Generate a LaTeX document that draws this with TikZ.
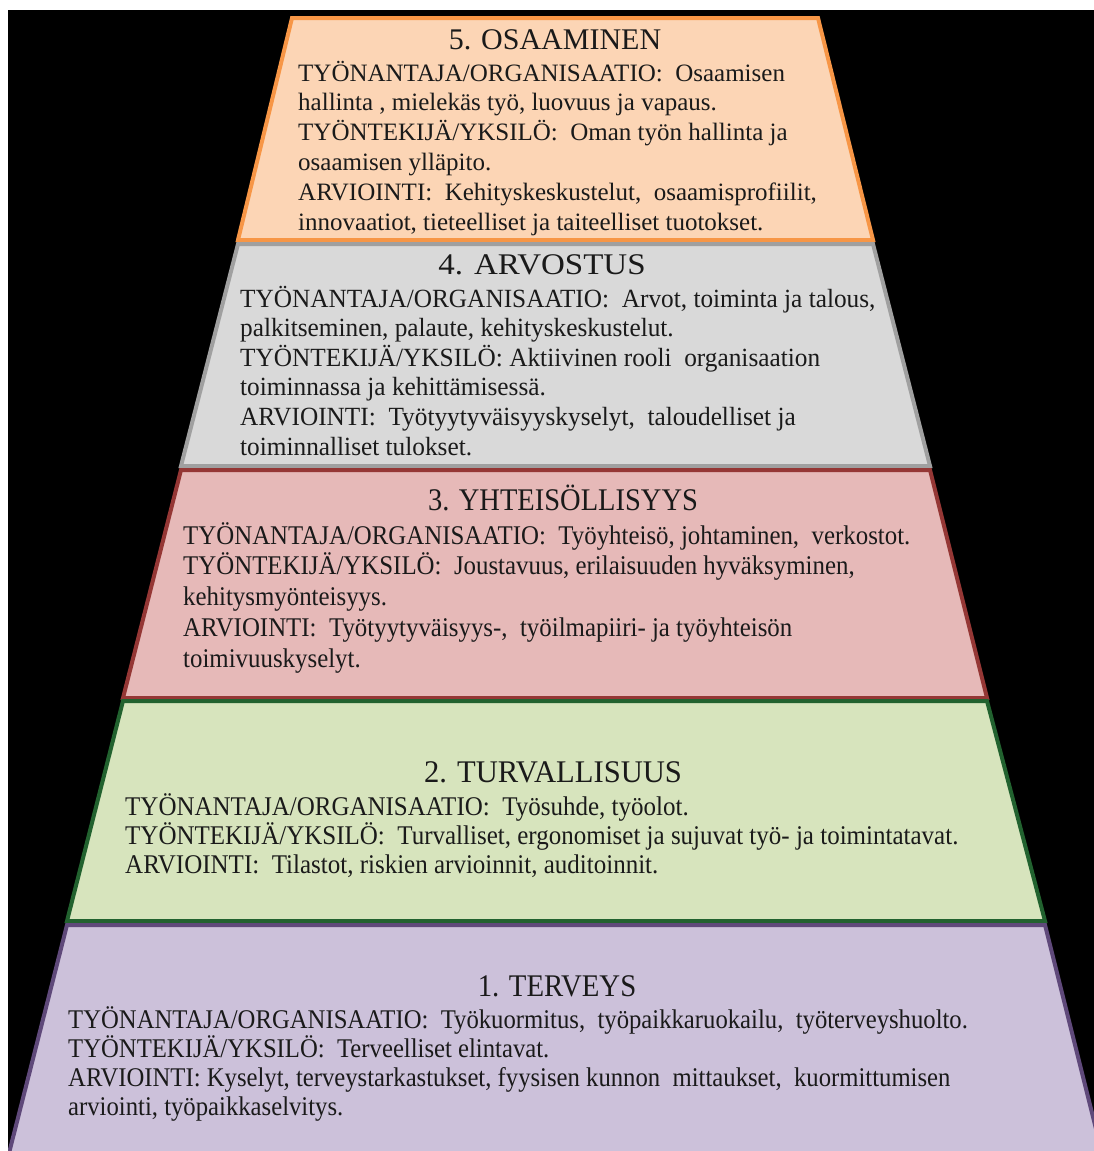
\documentclass[tikz,border=0pt]{standalone}
\usepackage{fontspec}
\usepackage{graphicx}
\setmainfont{Liberation Serif}
\definecolor{f5}{HTML}{FCD5B5}\definecolor{d5}{HTML}{F79646}
\definecolor{f4}{HTML}{D9D9D9}\definecolor{d4}{HTML}{A0A0A0}
\definecolor{f3}{HTML}{E6B9B8}\definecolor{d3}{HTML}{953735}
\definecolor{f2}{HTML}{D7E4BD}\definecolor{d2}{HTML}{22622F}
\definecolor{f1}{HTML}{CCC1DA}\definecolor{d1}{HTML}{5F497A}
\definecolor{ink}{HTML}{1A1A1A}
\newcommand\sq[3]{\scalebox{#1}[#2]{#3}}
\tikzset{
  level/.style={line width=4pt, line join=miter},
  ttl/.style={inner sep=0pt, anchor=base, text=ink, font=\fontsize{30}{32}\selectfont},
  body/.style={inner sep=0pt, anchor=base west, text=ink, font=\fontsize{25}{29}\selectfont},
}
\begin{document}
\begin{tikzpicture}[x=1pt,y=-1pt]
\useasboundingbox (0,0) rectangle (1094,1151);
\fill[white] (0,0) rectangle (1094,1151);
\fill[black] (8,10) rectangle (1094,1151);
\begin{scope}
\clip (8,10) rectangle (1094,1151);
\draw[level, fill=f5, draw=d5] (292,18) -- (818,18) -- (873,240) -- (238,240) -- cycle;
\draw[level, fill=f4, draw=d4] (238,244) -- (873,244) -- (930,466) -- (181,466) -- cycle;
\draw[level, fill=f3, draw=d3] (181,470) -- (930,470) -- (987,698) -- (123,698) -- cycle;
\draw[level, fill=f2, draw=d2] (123,701) -- (987,701) -- (1045,921) -- (67,921) -- cycle;
\draw[level, fill=f1, draw=d1] (67,925) -- (1045,925) -- (1105,1165) -- (6,1165) -- cycle;
\end{scope}
% titles
\node[ttl] (t5) at (555,49) {\sq{1.0}{1.0}{5. OSAAMINEN}};
\node[ttl] (t4) at (542,274) {\sq{1.1}{1.0}{4. ARVOSTUS}};
\node[ttl] (t3) at (563,510) {\sq{0.95}{1.05}{3. YHTEISÖLLISYYS}};
\node[ttl] (t2) at (553,782) {\sq{1.02}{1.05}{2. TURVALLISUUS}};
\node[ttl] (t1) at (557,996) {\sq{0.96}{1.05}{1. TERVEYS}};
% bodies
\foreach \t [count=\i] in {{TYÖNANTAJA/ORGANISAATIO:\ \ Osaamisen},{hallinta , mielekäs työ, luovuus ja vapaus.},{TYÖNTEKIJÄ/YKSILÖ:\ \ Oman työn hallinta ja},{osaamisen ylläpito.},{ARVIOINTI:\ \ Kehityskeskustelut,\ \ osaamisprofiilit,},{innovaatiot, tieteelliset ja taiteelliset tuotokset.}}
  \node[body] (b5-\i) at (298,{81+29.8*(\i-1)}) {\sq{1.0}{1.0}{\t}};
\foreach \t [count=\i] in {{TYÖNANTAJA/ORGANISAATIO:\ \ Arvot, toiminta ja talous,},{palkitseminen, palaute, kehityskeskustelut.},{TYÖNTEKIJÄ/YKSILÖ: Aktiivinen rooli\ \ organisaation},{toiminnassa ja kehittämisessä.},{ARVIOINTI:\ \ Työtyytyväisyyskyselyt,\ \ taloudelliset ja},{toiminnalliset tulokset.}}
  \node[body] (b4-\i) at (240,{307+29.6*(\i-1)}) {\sq{1.012}{1.05}{\t}};
\foreach \t [count=\i] in {{TYÖNANTAJA/ORGANISAATIO:\ \ Työyhteisö, johtaminen,\ \ verkostot.},{TYÖNTEKIJÄ/YKSILÖ:\ \ Joustavuus, erilaisuuden hyväksyminen,},{kehitysmyönteisyys.},{ARVIOINTI:\ \ Työtyytyväisyys-,\ \ työilmapiiri- ja työyhteisön},{toimivuuskyselyt.}}
  \node[body] (b3-\i) at (183,{544+30.75*(\i-1)}) {\sq{0.995}{1.08}{\t}};
\foreach \t [count=\i] in {{TYÖNANTAJA/ORGANISAATIO:\ \ Työsuhde, työolot.},{TYÖNTEKIJÄ/YKSILÖ:\ \ Turvalliset, ergonomiset ja sujuvat työ- ja toimintatavat.},{ARVIOINTI:\ \ Tilastot, riskien arvioinnit, auditoinnit.}}
  \node[body] (b2-\i) at (125,{815+29*(\i-1)}) {\sq{1.0}{1.08}{\t}};
\foreach \t [count=\i] in {{TYÖNANTAJA/ORGANISAATIO:\ \ Työkuormitus,\ \ työpaikkaruokailu,\ \ työterveyshuolto.},{TYÖNTEKIJÄ/YKSILÖ:\ \ Terveelliset elintavat.},{ARVIOINTI:\ Kyselyt,\ terveystarkastukset,\ fyysisen kunnon\ \ mittaukset,\ \ kuormittumisen},{arviointi, työpaikkaselvitys.}}
  \node[body] (b1-\i) at (68,{1028+29.3*(\i-1)}) {\sq{0.988}{1.08}{\t}};
\end{tikzpicture}
\end{document}
